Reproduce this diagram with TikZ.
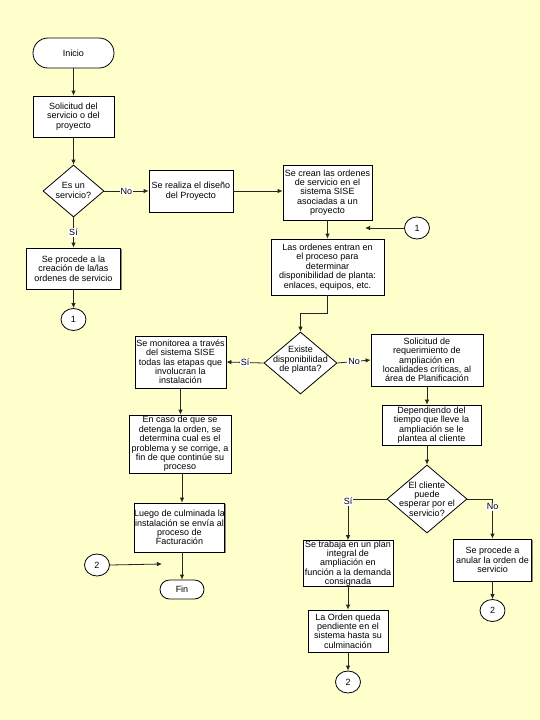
\documentclass[tikz,border=0pt]{standalone}
\usepackage{fontspec}
\setmainfont{Liberation Sans}
\usetikzlibrary{shapes.geometric,shadows,arrows.meta}
\definecolor{bgyellow}{HTML}{FFFFCC}
\begin{document}
\begin{tikzpicture}[x=1pt,y=-1pt,
  every node/.style={font=\fontsize{9}{9.35}\selectfont, inner sep=0pt},
  box/.style={draw=black, line width=0.8pt, fill=white, align=center,
    drop shadow={shadow xshift=1pt,shadow yshift=-1pt,fill=black,opacity=0.45}},
  bx/.style 2 args={box, minimum width=#1, minimum height=#2},
  term/.style={draw=black, line width=0.8pt, fill=white, rectangle},
  dia/.style={diamond, draw=black, line width=0.8pt, fill=white, inner sep=0pt},
  dtxt/.style={align=center},
  con/.style={ellipse, draw=black, line width=0.8pt, fill=white, minimum width=25, minimum height=22},
  arr/.style={draw=black!85, line width=0.8pt, -{Latex[length=5pt,width=4.5pt]}},
  lab/.style={fill=white, inner sep=1pt}]
\fill[bgyellow] (0,0) rectangle (540,720);
\useasboundingbox (0,0) rectangle (540,720);

% left column
\node[term, minimum width=81, minimum height=30, rounded corners=15pt] (ini) at (73.5,53) {Inicio};
\node[bx={81}{41}] (sol) at (73.5,116.5) {Solicitud del\\servicio o del\\proyecto};
\node[dia, minimum width=61, minimum height=52] (d1) at (73.5,191) {};
\node[dtxt] (d1t) at (73.5,190.5) {Es un\\servicio?};
\node[bx={94}{41}] (crea) at (73.5,268.5) {Se procede a la\\creación de la/las\\ordenes de servicio};
\node[con] (c1a) at (73.5,319.5) {1};

% top middle
\node[bx={84}{42}] (dis) at (191,191) {Se realiza el diseño\\del Proyecto};
\node[bx={89}{55}] (crean) at (327.5,192.5) {Se crean las ordenes\\de servicio en el\\sistema SISE\\asociadas a un\\proyecto};
\node[bx={113}{56}] (ord) at (327.5,267) {Las ordenes entran en\\el proceso para\\determinar\\disponibilidad de planta:\\enlaces, equipos, etc.};
\node[con] (c1b) at (417,228) {1};
\coordinate (c1end) at (365,228);

% second decision
\node[dia, minimum width=73, minimum height=62] (d2) at (300.5,363) {};
\node[dtxt] (d2t) at (300.5,360) {Existe\\disponibilidad\\de planta?};
\node[bx={91}{52}] (mon) at (180.5,362) {Se monitorea a través\\del sistema SISE\\todas las etapas que\\involucran la\\instalación};
\node[bx={112}{52}] (req) at (427,360) {Solicitud de\\requerimiento de\\ampliación en\\localidades críticas, al\\área de Planificación};
\node[bx={99}{40}] (dep) at (431.5,425) {Dependiendo del\\tiempo que lleve la\\ampliación se le\\plantea al cliente};

% third decision
\node[dia, minimum width=80, minimum height=68] (d3) at (427,499) {};
\node[dtxt] (d3t) at (427,499) {El cliente\\puede\\esperar por el\\servicio?};
\node[bx={78}{42}] (anu) at (492.5,560) {Se procede a\\anular la orden de\\servicio};
\node[con] (c2r) at (492.5,610.5) {2};
\node[bx={90}{45}] (tra) at (348,563.5) {Se trabaja en un plan\\integral de\\ampliación en\\función a la demanda\\consignada};
\node[bx={80}{42}] (pen) at (348,631) {La Orden queda\\pendiente en el\\sistema hasta su\\culminación};
\node[con] (c2b) at (348,682) {2};

% left lower column
\node[bx={102}{58}] (caso) at (180,444) {En caso de que se\\detenga la orden, se\\determina cual es el\\problema y se corrige, a\\fin de que continúe su\\proceso};
\node[bx={89}{49}] (lue) at (179.5,527.5) {Luego de culminada la\\instalación se envía al\\proceso de\\Facturación};
\node[term, minimum width=44, minimum height=19, rounded corners=9.5pt] (fin) at (182,589.5) {Fin};
\node[con] (c2l) at (97,565) {2};
\coordinate (c2end) at (162,564);

% connectors
\draw[arr] (ini) -- (sol);
\draw[arr] (sol) -- (d1);
\draw[arr] (d1.east) -- node[lab]{No} (dis.west);
\draw[arr] (d1.south) -- node[lab]{Sí} (crea.north);
\draw[arr] (crea) -- (c1a);
\draw[arr] (dis.east) -- (dis.east -| crean.west);
\draw[arr] (crean.south) -- (crean.south |- ord.north);
\draw[arr] (c1b.west) -- (c1end);
\draw[arr] (ord.south) -- ++(0,18) -| (d2.north);
\draw[arr] (d2.west) -- node[lab]{Sí} (mon.east);
\draw[arr] (d2.east) -- node[lab]{No} (req.west);
\draw[arr] (req.south) -- (req.south |- dep.north);
\draw[arr] (d3.north |- dep.south) -- (d3.north);
\draw[arr] (d3.east) -| node[lab,pos=0.6]{No} (anu.north);
\draw[arr] (d3.west) -| node[lab,pos=0.53]{Sí} (tra.north);
\draw[arr] (tra) -- (pen);
\draw[arr] (pen) -- (c2b);
\draw[arr] (anu) -- (c2r);
\draw[arr] (mon.south) -- (mon.south |- caso.north);
\draw[arr] (fin.north |- caso.south) -- (fin.north |- lue.north);
\draw[arr] (fin.north |- lue.south) -- (fin.north);
\draw[arr] (c2l.east) -- (c2end);
\end{tikzpicture}
\end{document}
